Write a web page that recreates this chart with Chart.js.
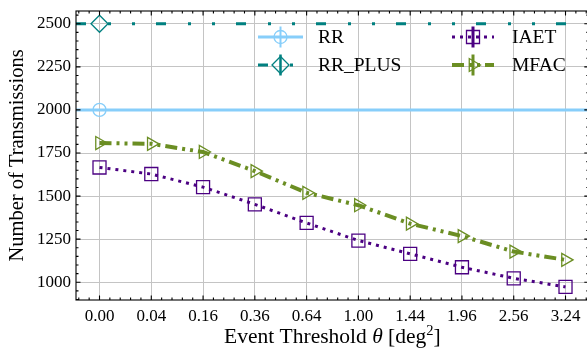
<!DOCTYPE html>
<html><head><meta charset="utf-8">
<script src="https://cdn.jsdelivr.net/npm/chart.js@4/dist/chart.umd.min.js"></script>
<style>html,body{margin:0;padding:0;background:#fff;}canvas{display:block;}</style>
</head><body>
<canvas id="c" width="587" height="349"></canvas>
<script>
// ---- data ----
const categories = ['0.00','0.04','0.16','0.36','0.64','1.00','1.44','1.96','2.56','3.24'];
const rr     = [2000,2000,2000,2000,2000,2000,2000,2000,2000,2000];
const rrPlus = [2500,2500,2500,2500,2500,2500,2500,2500,2500,2500];
const iaet   = [1666,1628,1552,1452,1344,1242,1165,1087,1023,973];
const mfac   = [1808,1803,1756,1645,1519,1447,1340,1268,1178,1130];
const yTickValues = [1000,1250,1500,1750,2000,2250,2500];
const seriesNames = ['RR','RR_PLUS','IAET','MFAC'];

// ---- axis ranges ----
const X_MIN = -0.454, X_MAX = 9.415, X_FULL_MAX = 9.45;
const Y_MIN = 897, Y_MAX = 2574;
const FONT = "'Liberation Serif', 'Times New Roman', serif";

const styles = {
  RR:      {color:'#87CEFA', width:3, dash:[], point:'circle', r:6.5, ebar:2},
  RR_PLUS: {color:'#008080', width:3, dash:[10,22,3,21,3,21], point:'rectRot', r:8.5, ebar:2.5},
  IAET:    {color:'#4B0082', width:3, dash:[3,5], point:'rect', r:9.2, ebar:3},
  MFAC:    {color:'#6B8E23', width:4, dash:[12,5,3,5,3,5], point:'triangle', r:7.5, ebar:3}
};

const pts = arr => arr.map((v,i)=>({x:i,y:v}));
const extended = arr => [{x:X_MIN,y:arr[0]}, ...pts(arr), {x:X_FULL_MAX,y:arr[arr.length-1]}];

function ds(name, data, onlyIndex){
  const s = styles[name];
  return {
    label:name, data:data,
    borderColor:s.color, borderWidth:s.width, borderDash:s.dash, borderCapStyle:'butt',
    pointStyle:s.point, rotation: s.point==='triangle'?90:0,
    pointRadius: onlyIndex===undefined ? s.r : (c=>c.dataIndex===onlyIndex? s.r:0),
    pointBorderColor:s.color, pointBackgroundColor:'rgba(0,0,0,0)', pointBorderWidth:1.3,
    tension:0, fill:false
  };
}

function drawMarker(ctx, style, x, y, r, color, lw){
  ctx.save(); ctx.setLineDash([]); ctx.strokeStyle=color; ctx.lineWidth=lw; ctx.beginPath();
  if(style==='circle'){ ctx.arc(x,y,r,0,2*Math.PI); }
  else if(style==='rectRot'){ ctx.moveTo(x,y-r); ctx.lineTo(x+r,y); ctx.lineTo(x,y+r); ctx.lineTo(x-r,y); ctx.closePath(); }
  else if(style==='rect'){ const s=r*Math.SQRT1_2; ctx.rect(x-s,y-s,2*s,2*s); }
  else if(style==='triangle'){ const h=r*Math.sqrt(3)/2; ctx.moveTo(x+r,y); ctx.lineTo(x-r/2,y-h); ctx.lineTo(x-r/2,y+h); ctx.closePath(); }
  ctx.stroke(); ctx.restore();
}

const framePlugin = {
  id:'frame',
  afterDatasetsDraw(chart){
    const ctx = chart.ctx, xs = chart.scales.x, ys = chart.scales.y, a = chart.chartArea;
    const L=a.left, T=a.top, B=a.bottom, R=xs.getPixelForValue(X_FULL_MAX);
    ctx.save();
    ctx.strokeStyle='#000'; ctx.lineWidth=1.1;
    ctx.strokeRect(L, T, R-L, B-T);
    ctx.beginPath();
    for(let k=Math.ceil(X_MIN/0.2); k<=Math.floor(X_FULL_MAX/0.2); k++){
      const v=k*0.2, major = (k%5===0);
      const len = major?4.5:2.5, px = xs.getPixelForValue(v);
      ctx.moveTo(px,B); ctx.lineTo(px,B-len);
      ctx.moveTo(px,T); ctx.lineTo(px,T+len);
    }
    for(let v=Math.ceil(Y_MIN/50)*50; v<=Y_MAX; v+=50){
      const major = (v%250===0);
      const len = major?4.5:2.5, py = ys.getPixelForValue(v);
      ctx.moveTo(L,py); ctx.lineTo(L+len,py);
      ctx.moveTo(R,py); ctx.lineTo(R-len,py);
    }
    ctx.stroke();
    ctx.restore();
  },
  afterDraw(chart){
    const ctx = chart.ctx, a = chart.chartArea;
    ctx.save();
    ctx.fillStyle='#000';
    ctx.textBaseline='alphabetic';
    const xc = (a.left + chart.scales.x.getPixelForValue(X_FULL_MAX))/2;
    const parts = [
      {t:'Event Threshold ', f:`21.5px ${FONT}`, dy:0},
      {t:'θ', f:`italic 21.5px ${FONT}`, dy:0},
      {t:' [deg', f:`21.5px ${FONT}`, dy:0},
      {t:'2', f:`14.5px ${FONT}`, dy:-8},
      {t:']', f:`21.5px ${FONT}`, dy:0}
    ];
    let tw=0; parts.forEach(p=>{ctx.font=p.f; p.w=ctx.measureText(p.t).width; tw+=p.w;});
    let x = xc - tw/2; const base = 343;
    parts.forEach(p=>{ctx.font=p.f; ctx.textAlign='left'; ctx.fillText(p.t,x,base+p.dy); x+=p.w;});
    ctx.save();
    ctx.translate(18,(a.top+a.bottom)/2);
    ctx.rotate(-Math.PI/2);
    ctx.font=`20.5px ${FONT}`; ctx.textAlign='center'; ctx.textBaseline='middle';
    ctx.fillText('Number of Transmissions',0,0);
    ctx.restore();

    const cols = [{lx0:258,lx1:303,mx:280.5,tx:318},{lx0:452,lx1:494,mx:473,tx:512}];
    const rows = [37,65];
    const layout = [[0,0],[0,1],[1,0],[1,1]];
    seriesNames.forEach((name,i)=>{
      const s = styles[name], c = cols[layout[i][0]], y = rows[layout[i][1]];
      ctx.save();
      ctx.strokeStyle=s.color; ctx.lineWidth=s.width; ctx.setLineDash(s.dash); ctx.lineCap='butt';
      ctx.beginPath(); ctx.moveTo(c.lx0,y); ctx.lineTo(c.lx1,y); ctx.stroke();
      ctx.setLineDash([]); ctx.lineWidth=s.ebar;
      ctx.beginPath(); ctx.moveTo(c.mx,y-10.5); ctx.lineTo(c.mx,y+10.5); ctx.stroke();
      ctx.restore();
      drawMarker(ctx, s.point, c.mx, y, s.r, s.color, 1.3);
      ctx.fillStyle='#000'; ctx.font=`19.5px ${FONT}`; ctx.textAlign='left'; ctx.textBaseline='middle';
      ctx.fillText(name, c.tx, y+1);
    });
    ctx.restore();
  }
};

new Chart(document.getElementById('c'), {
  type:'line',
  data:{ datasets:[
    ds('RR', extended(rr), 1),
    ds('RR_PLUS', extended(rrPlus), 1),
    ds('IAET', pts(iaet)),
    ds('MFAC', pts(mfac))
  ]},
  options:{
    responsive:false, animation:false, events:[],
    layout:{padding:{top:11,right:0,left:0,bottom:0}, autoPadding:false},
    plugins:{legend:{display:false}, tooltip:{enabled:false}},
    scales:{
      x:{ type:'linear', min:X_MIN, max:X_MAX,
        afterBuildTicks:s=>{ s.ticks = categories.map((c,i)=>({value:i})); },
        afterFit:s=>{ s.height = 49; s.paddingLeft = 0; s.paddingRight = 0; },
        ticks:{ callback:v=>categories[v], font:{family:FONT,size:17}, color:'#000', padding:6, maxRotation:0, autoSkip:false },
        grid:{ color:'#c4c4c4', lineWidth:1, drawTicks:false },
        border:{display:false}
      },
      y:{ type:'linear', min:Y_MIN, max:Y_MAX,
        afterBuildTicks:s=>{ s.ticks = yTickValues.map(v=>({value:v})); },
        afterFit:s=>{ s.width = 76; s.paddingTop = 0; s.paddingBottom = 0; },
        ticks:{ callback:v=>String(v), font:{family:FONT,size:17}, color:'#000', padding:5, autoSkip:false },
        grid:{ color:'#c4c4c4', lineWidth:1, drawTicks:false },
        border:{display:false}
      }
    }
  },
  plugins:[framePlugin]
});
</script>
</body></html>
